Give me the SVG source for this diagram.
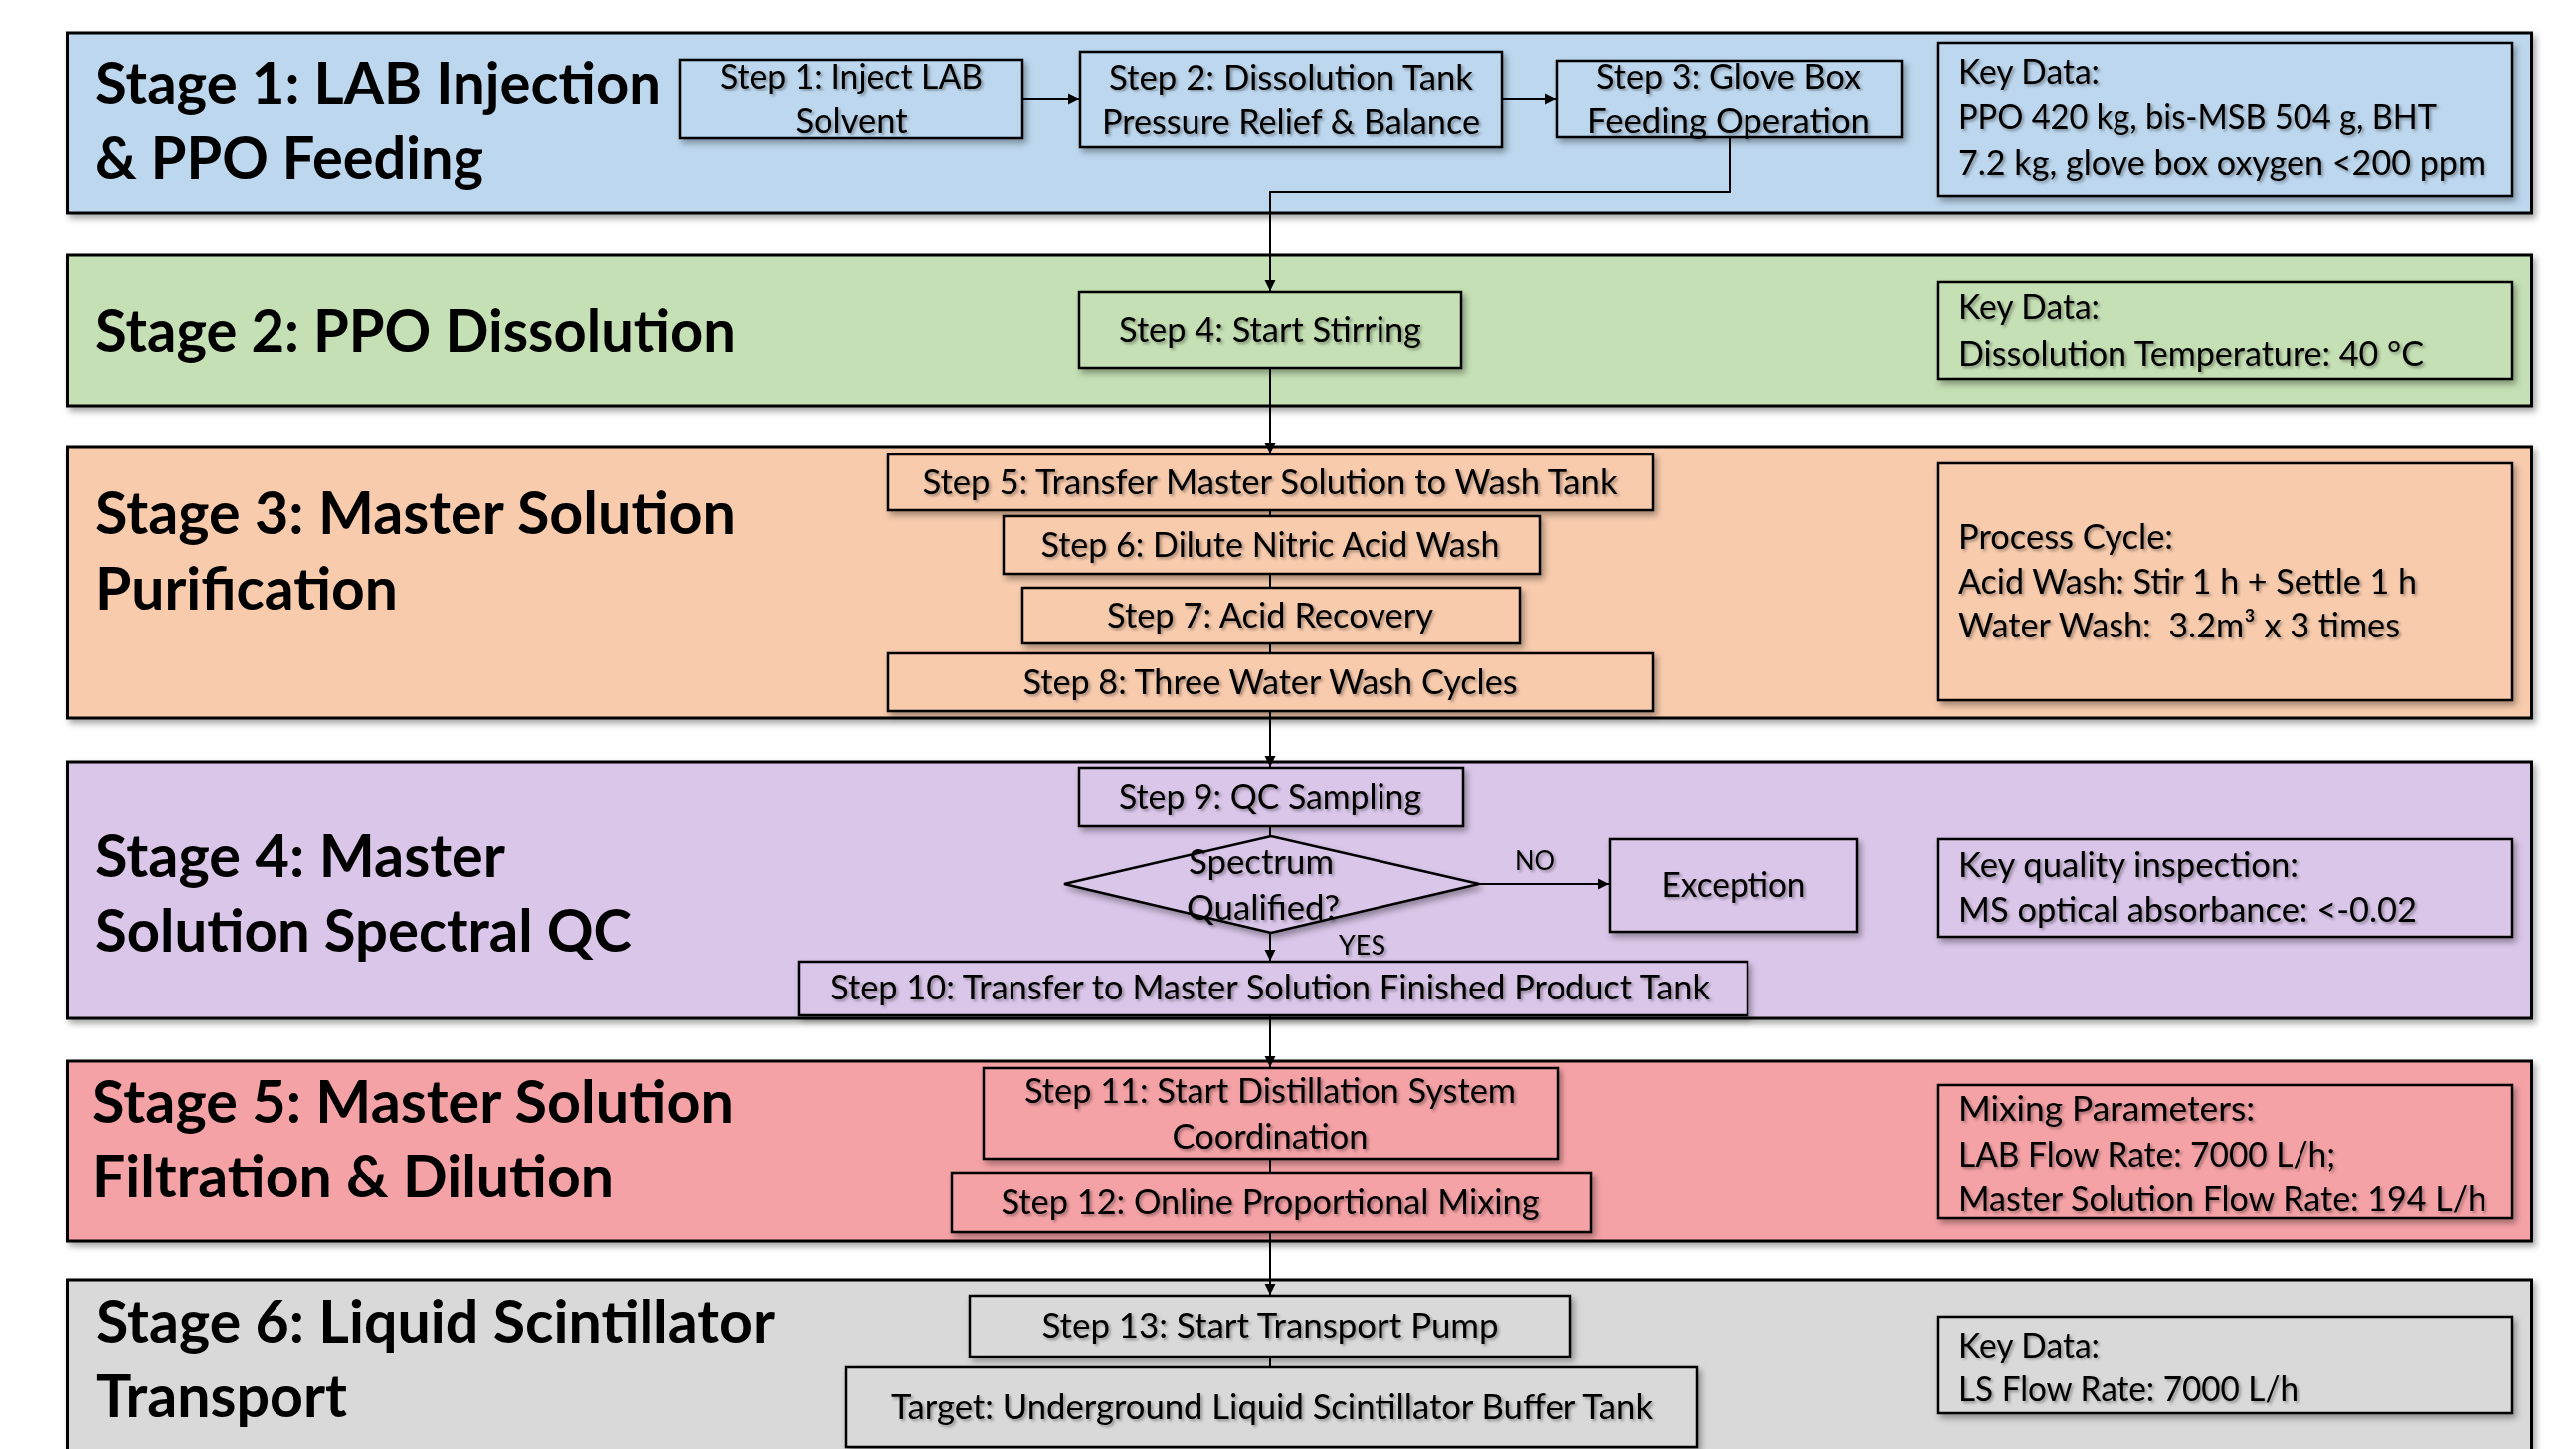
<svg xmlns="http://www.w3.org/2000/svg" width="2590" height="1457" viewBox="0 0 2590 1457">
<defs>
<style>
.band{stroke:#000;stroke-width:3}
.c1{fill:#BDD7EE}.c2{fill:#C5E0B4}.c3{fill:#F8CBAD}.c4{fill:#DAC6E9}.c5{fill:#F5A2A6}.c6{fill:#D9D9D9}
.box{stroke:#000;stroke-width:2.5}
.conn{stroke:#000;stroke-width:2;fill:none}
.title{font-family:Lato,"Liberation Sans",sans-serif;font-weight:700;font-size:60px;fill:#000}
.t{font-family:Lato,"Liberation Sans",sans-serif;font-size:34px;fill:#000}
.tc{text-anchor:middle}
.lbl{font-family:Lato,"Liberation Sans",sans-serif;font-size:27px;fill:#000}
</style>
<filter id="bs" x="-5%" y="-10%" width="110%" height="130%">
<feDropShadow dx="3" dy="4" stdDeviation="3" flood-color="#000" flood-opacity="0.35"/>
</filter>
<filter id="ts" x="-5%" y="-20%" width="110%" height="150%">
<feDropShadow dx="2" dy="2" stdDeviation="1.8" flood-color="#000" flood-opacity="0.35"/>
</filter>
<marker id="arr" viewBox="0 0 10 10" refX="10" refY="5" markerWidth="11" markerHeight="13" markerUnits="userSpaceOnUse" orient="auto">
<path d="M0,0 L10,5 L0,10 z" fill="#000"/>
</marker>
</defs>
<rect width="2590" height="1457" fill="#FFFFFF"/>

<g id="stage1">
<rect class="band c1" x="67.5" y="33" width="2478" height="181" filter="url(#bs)"/>
<text class="title" x="96" y="105" textLength="569" lengthAdjust="spacingAndGlyphs">Stage 1: LAB Injection</text>
<text class="title" x="96" y="180" textLength="390" lengthAdjust="spacingAndGlyphs">&amp; PPO Feeding</text>
</g>
<g id="stage2">
<rect class="band c2" x="67.5" y="256" width="2478" height="152" filter="url(#bs)"/>
<text class="title" x="96" y="354" textLength="644" lengthAdjust="spacingAndGlyphs">Stage 2: PPO Dissolution</text>
</g>
<g id="stage3">
<rect class="band c3" x="67.5" y="449" width="2478" height="273" filter="url(#bs)"/>
<text class="title" x="96" y="537" textLength="644" lengthAdjust="spacingAndGlyphs">Stage 3: Master Solution</text>
<text class="title" x="96" y="613" textLength="304" lengthAdjust="spacingAndGlyphs">Purification</text>
</g>
<g id="stage4">
<rect class="band c4" x="67.5" y="766" width="2478" height="258" filter="url(#bs)"/>
<text class="title" x="96" y="882" textLength="412" lengthAdjust="spacingAndGlyphs">Stage 4: Master</text>
<text class="title" x="96" y="957" textLength="539" lengthAdjust="spacingAndGlyphs">Solution Spectral QC</text>
</g>
<g id="stage5">
<rect class="band c5" x="67.5" y="1067" width="2478" height="181" filter="url(#bs)"/>
<text class="title" x="93" y="1129" textLength="645" lengthAdjust="spacingAndGlyphs">Stage 5: Master Solution</text>
<text class="title" x="93" y="1204" textLength="524" lengthAdjust="spacingAndGlyphs">Filtration &amp; Dilution</text>
</g>
<g id="stage6">
<rect class="band c6" x="67.5" y="1287" width="2478" height="200" filter="url(#bs)"/>
<text class="title" x="97" y="1350" textLength="682" lengthAdjust="spacingAndGlyphs">Stage 6: Liquid Scintillator</text>
<text class="title" x="97" y="1425" textLength="252" lengthAdjust="spacingAndGlyphs">Transport</text>
</g>

<g id="connectors">
<path class="conn" d="M1028,100 L1085,100" marker-end="url(#arr)"/>
<path class="conn" d="M1510,100 L1564,100" marker-end="url(#arr)"/>
<path class="conn" d="M1739,138 L1739,193 L1277,193 L1277,293" marker-end="url(#arr)"/>
<path class="conn" d="M1277,370 L1277,456" marker-end="url(#arr)"/>
<path class="conn" d="M1277,513 L1277,519"/>
<path class="conn" d="M1277,577 L1277,591"/>
<path class="conn" d="M1277,647 L1277,657"/>
<path class="conn" d="M1277,715 L1277,771" marker-end="url(#arr)"/>
<path class="conn" d="M1277,831 L1277,841"/>
<path class="conn" d="M1277,938 L1277,966" marker-end="url(#arr)"/>
<path class="conn" d="M1487,889 L1618,889" marker-end="url(#arr)"/>
<path class="conn" d="M1277,1021 L1277,1073" marker-end="url(#arr)"/>
<path class="conn" d="M1277,1165 L1277,1179"/>
<path class="conn" d="M1277,1239 L1277,1302" marker-end="url(#arr)"/>
<path class="conn" d="M1277,1364 L1277,1375"/>
<text class="lbl" x="1523" y="875" textLength="40" lengthAdjust="spacingAndGlyphs" filter="url(#ts)">NO</text>
<text class="lbl" x="1346" y="960" textLength="47" lengthAdjust="spacingAndGlyphs" filter="url(#ts)">YES</text>
</g>

<g id="step1">
<rect class="box c1" x="684" y="60" width="344" height="79" filter="url(#bs)"/>
<text class="t tc" x="856" y="89" textLength="264" lengthAdjust="spacingAndGlyphs" filter="url(#ts)">Step 1: Inject LAB</text>
<text class="t tc" x="856" y="134" textLength="113" lengthAdjust="spacingAndGlyphs" filter="url(#ts)">Solvent</text>
</g>
<g id="step2">
<rect class="box c1" x="1086" y="52" width="424" height="96" filter="url(#bs)"/>
<text class="t tc" x="1298" y="90" textLength="366" lengthAdjust="spacingAndGlyphs" filter="url(#ts)">Step 2: Dissolution Tank</text>
<text class="t tc" x="1298" y="135" textLength="380" lengthAdjust="spacingAndGlyphs" filter="url(#ts)">Pressure Relief &amp; Balance</text>
</g>
<g id="step3">
<rect class="box c1" x="1565" y="61" width="347" height="77" filter="url(#bs)"/>
<text class="t tc" x="1738" y="89" textLength="266" lengthAdjust="spacingAndGlyphs" filter="url(#ts)">Step 3: Glove Box</text>
<text class="t tc" x="1738" y="134" textLength="284" lengthAdjust="spacingAndGlyphs" filter="url(#ts)">Feeding Operation</text>
</g>
<g id="keydata1">
<rect class="box c1" x="1949" y="43" width="577" height="154" filter="url(#bs)"/>
<text class="t" x="1969" y="84" textLength="142" lengthAdjust="spacingAndGlyphs" filter="url(#ts)">Key Data:</text>
<text class="t" x="1969" y="130" textLength="481" lengthAdjust="spacingAndGlyphs" filter="url(#ts)">PPO 420 kg, bis-MSB 504 g, BHT</text>
<text class="t" x="1969" y="176" textLength="530" lengthAdjust="spacingAndGlyphs" filter="url(#ts)">7.2 kg, glove box oxygen &lt;200 ppm</text>
</g>

<g id="step4">
<rect class="box c2" x="1085" y="294" width="384" height="76" filter="url(#bs)"/>
<text class="t tc" x="1277" y="344" textLength="304" lengthAdjust="spacingAndGlyphs" filter="url(#ts)">Step 4: Start Stirring</text>
</g>
<g id="keydata2">
<rect class="box c2" x="1949" y="284" width="577" height="97" filter="url(#bs)"/>
<text class="t" x="1969" y="321" textLength="142" lengthAdjust="spacingAndGlyphs" filter="url(#ts)">Key Data:</text>
<text class="t" x="1969" y="368" textLength="468" lengthAdjust="spacingAndGlyphs" filter="url(#ts)">Dissolution Temperature: 40 °C</text>
</g>

<g id="step5">
<rect class="box c3" x="893" y="457" width="769" height="56" filter="url(#bs)"/>
<text class="t tc" x="1277" y="497" textLength="699" lengthAdjust="spacingAndGlyphs" filter="url(#ts)">Step 5: Transfer Master Solution to Wash Tank</text>
</g>
<g id="step6">
<rect class="box c3" x="1009" y="519" width="539" height="58" filter="url(#bs)"/>
<text class="t tc" x="1277" y="560" textLength="461" lengthAdjust="spacingAndGlyphs" filter="url(#ts)">Step 6: Dilute Nitric Acid Wash</text>
</g>
<g id="step7">
<rect class="box c3" x="1028" y="591" width="500" height="56" filter="url(#bs)"/>
<text class="t tc" x="1277" y="631" textLength="328" lengthAdjust="spacingAndGlyphs" filter="url(#ts)">Step 7: Acid Recovery</text>
</g>
<g id="step8">
<rect class="box c3" x="893" y="657" width="769" height="58" filter="url(#bs)"/>
<text class="t tc" x="1277" y="698" textLength="497" lengthAdjust="spacingAndGlyphs" filter="url(#ts)">Step 8: Three Water Wash Cycles</text>
</g>
<g id="processcycle">
<rect class="box c3" x="1949" y="466" width="577" height="238" filter="url(#bs)"/>
<text class="t" x="1969" y="552" textLength="216" lengthAdjust="spacingAndGlyphs" filter="url(#ts)">Process Cycle:</text>
<text class="t" x="1969" y="597" textLength="461" lengthAdjust="spacingAndGlyphs" filter="url(#ts)">Acid Wash: Stir 1 h + Settle 1 h</text>
<text class="t" x="1969" y="641" textLength="444" lengthAdjust="spacingAndGlyphs" filter="url(#ts)" style="white-space:pre">Water Wash:  3.2m³ x 3 times</text>
</g>

<g id="step9">
<rect class="box c4" x="1085" y="772" width="386" height="59" filter="url(#bs)"/>
<text class="t tc" x="1277" y="813" textLength="304" lengthAdjust="spacingAndGlyphs" filter="url(#ts)">Step 9: QC Sampling</text>
</g>
<g id="decision">
<polygon class="box c4" points="1070,889 1278,841 1487,889 1278,938" filter="url(#bs)"/>
<text class="t tc" x="1268" y="879" textLength="146" lengthAdjust="spacingAndGlyphs" filter="url(#ts)">Spectrum</text>
<text class="t tc" x="1270" y="925" textLength="154" lengthAdjust="spacingAndGlyphs" filter="url(#ts)">Qualified?</text>
</g>
<g id="exception">
<rect class="box c4" x="1619" y="844" width="248" height="93" filter="url(#bs)"/>
<text class="t tc" x="1743" y="902" textLength="145" lengthAdjust="spacingAndGlyphs" filter="url(#ts)">Exception</text>
</g>
<g id="step10">
<rect class="box c4" x="803" y="967" width="954" height="54" filter="url(#bs)"/>
<text class="t tc" x="1277" y="1005" textLength="884" lengthAdjust="spacingAndGlyphs" filter="url(#ts)">Step 10: Transfer to Master Solution Finished Product Tank</text>
</g>
<g id="qualitybox">
<rect class="box c4" x="1949" y="844" width="577" height="98" filter="url(#bs)"/>
<text class="t" x="1969" y="882" textLength="342" lengthAdjust="spacingAndGlyphs" filter="url(#ts)">Key quality inspection:</text>
<text class="t" x="1969" y="927" textLength="461" lengthAdjust="spacingAndGlyphs" filter="url(#ts)">MS optical absorbance: &lt;-0.02</text>
</g>

<g id="step11">
<rect class="box c5" x="989" y="1074" width="577" height="91" filter="url(#bs)"/>
<text class="t tc" x="1277" y="1109" textLength="494" lengthAdjust="spacingAndGlyphs" filter="url(#ts)">Step 11: Start Distillation System</text>
<text class="t tc" x="1277" y="1155" textLength="197" lengthAdjust="spacingAndGlyphs" filter="url(#ts)">Coordination</text>
</g>
<g id="step12">
<rect class="box c5" x="957" y="1179" width="643" height="60" filter="url(#bs)"/>
<text class="t tc" x="1277" y="1221" textLength="541" lengthAdjust="spacingAndGlyphs" filter="url(#ts)">Step 12: Online Proportional Mixing</text>
</g>
<g id="mixingbox">
<rect class="box c5" x="1949" y="1091" width="577" height="134" filter="url(#bs)"/>
<text class="t" x="1969" y="1127" textLength="298" lengthAdjust="spacingAndGlyphs" filter="url(#ts)">Mixing Parameters:</text>
<text class="t" x="1969" y="1173" textLength="379" lengthAdjust="spacingAndGlyphs" filter="url(#ts)">LAB Flow Rate: 7000 L/h;</text>
<text class="t" x="1969" y="1218" textLength="531" lengthAdjust="spacingAndGlyphs" filter="url(#ts)">Master Solution Flow Rate: 194 L/h</text>
</g>

<g id="step13">
<rect class="box c6" x="975" y="1303" width="604" height="61" filter="url(#bs)"/>
<text class="t tc" x="1277" y="1345" textLength="459" lengthAdjust="spacingAndGlyphs" filter="url(#ts)">Step 13: Start Transport Pump</text>
</g>
<g id="target">
<rect class="box c6" x="851" y="1375" width="855" height="80" filter="url(#bs)"/>
<text class="t tc" x="1279" y="1427" textLength="766" lengthAdjust="spacingAndGlyphs" filter="url(#ts)">Target: Underground Liquid Scintillator Buffer Tank</text>
</g>
<g id="keydata6">
<rect class="box c6" x="1949" y="1324" width="577" height="97" filter="url(#bs)"/>
<text class="t" x="1969" y="1365" textLength="142" lengthAdjust="spacingAndGlyphs" filter="url(#ts)">Key Data:</text>
<text class="t" x="1969" y="1409" textLength="342" lengthAdjust="spacingAndGlyphs" filter="url(#ts)">LS Flow Rate: 7000 L/h</text>
</g>
</svg>
